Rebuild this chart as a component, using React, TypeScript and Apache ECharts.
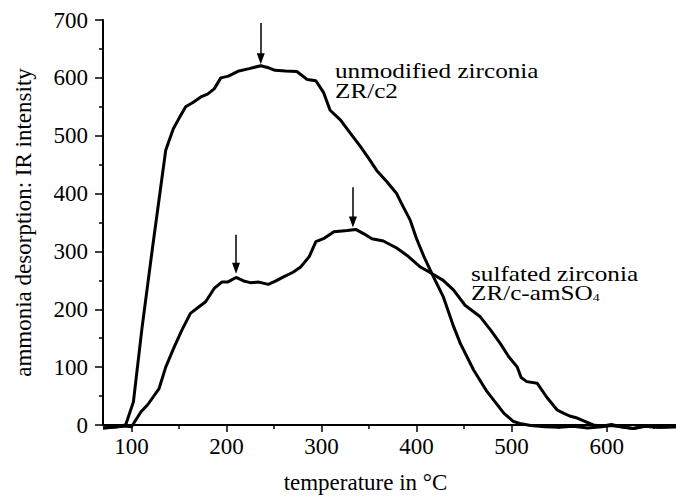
import React, { useEffect, useRef } from "react";
import * as echarts from "echarts";

// Unmodified zirconia ZR/c2
const unmodTemp = [70, 80, 90, 94, 102, 111, 122, 136, 144, 150, 157, 165, 173, 180, 187, 194, 202, 213, 224, 236, 245, 251, 262, 274, 285, 294, 302, 309, 320, 330, 341, 350, 358, 369, 379, 386, 393, 400, 408, 416, 428, 439, 446, 460, 474, 484, 492, 502, 510, 520, 535, 550, 565, 580, 595, 605, 615, 628, 640, 655, 673];
const unmodValue = [-5, -4, -2, 1, 40, 167, 305, 475, 512, 530, 550, 558, 567, 572, 581, 600, 603, 612, 616, 621, 617, 613, 612, 611, 597, 595, 575, 544, 527, 505, 481, 460, 440, 420, 400, 377, 355, 322, 290, 262, 222, 170, 141, 95, 58, 37, 20, 6, 2, -1, -3, -4, -2, -5, -3, -1, -3, -6, -2, -4, -3];

// Sulfated zirconia ZR/c-amSO4
const sulfTemp = [70, 80, 90, 95, 100, 110, 117, 129, 136, 145, 153, 162, 170, 178, 187, 195, 201, 210, 218, 225, 234, 244, 252, 260, 270, 278, 287, 294, 302, 313, 327, 336, 345, 353, 365, 379, 390, 404, 416, 428, 439, 451, 467, 478, 488, 497, 506, 510, 516, 527, 537, 548, 555, 562, 569, 586, 595, 605, 615, 628, 640, 655, 673];
const sulfValue = [-5, -4, -2, -2, -3, 23, 35, 63, 100, 135, 164, 193, 203, 213, 236, 247, 247, 255, 249, 246, 247, 243, 249, 256, 264, 273, 291, 317, 322, 334, 336, 338, 330, 322, 318, 306, 293, 273, 262, 250, 233, 207, 187, 164, 141, 118, 100, 82, 75, 72, 48, 26, 20, 15, 12, 0, -2, 1, -3, -6, -2, -4, -3];

// Peak arrows: [temperature, top value, tip value]
const arrowTemp = [236, 210, 333];
const arrowTop = [695, 329, 411];
const arrowTip = [633, 271, 351];

const xMajorTicks = [100, 200, 300, 400, 500, 600];
const xMinorTicks = [150, 250, 350, 450, 550, 650];

const FONT = "Liberation Serif";

export default function App() {
  const ref = useRef<HTMLDivElement>(null);
  useEffect(() => {
    const chart = echarts.init(ref.current!, null, { renderer: "svg" });
    const zip = (t: number[], v: number[]) => t.map((x, i) => [x, v[i]]);
    const arrows = arrowTemp.map((t, i) => [
      { coord: [t, arrowTop[i]], symbol: "none" },
      { coord: [t, arrowTip[i]], symbol: "triangle" },
    ]);
    chart.setOption({
      animation: false,
      backgroundColor: "#fff",
      grid: { left: 103, right: 0, top: 20, bottom: 74 },
      xAxis: [
        {
          type: "value",
          min: 70,
          max: 673,
          name: "temperature in °C",
          nameLocation: "middle",
          nameGap: 46,
          nameTextStyle: { fontFamily: FONT, fontSize: 23, color: "#000", padding: [0, 48, 0, 0] },
          axisLine: { show: true, onZero: false, lineStyle: { color: "#000", width: 2 } },
          axisTick: { show: true, customValues: xMajorTicks, length: 7, lineStyle: { color: "#000", width: 1.5 } },
          axisLabel: { customValues: xMajorTicks, fontFamily: FONT, fontSize: 23, color: "#000", margin: 10 },
          splitLine: { show: false },
        },
        {
          type: "value",
          min: 70,
          max: 673,
          position: "bottom",
          axisLine: { show: false },
          axisTick: { show: true, customValues: xMinorTicks, length: 4, lineStyle: { color: "#000", width: 1.5 } },
          axisLabel: { show: false },
          splitLine: { show: false },
        },
      ],
      yAxis: {
        type: "value",
        min: 0,
        max: 700,
        interval: 100,
        name: "ammonia desorption: IR intensity",
        nameLocation: "middle",
        nameGap: 68,
        nameTextStyle: { fontFamily: FONT, fontSize: 23, color: "#000" },
        axisLine: { show: true, lineStyle: { color: "#000", width: 2 } },
        axisTick: { show: true, length: 8, lineStyle: { color: "#000", width: 1.5 } },
        minorTick: { show: true, splitNumber: 2, length: 4, lineStyle: { color: "#000", width: 1.5 } },
        axisLabel: { fontFamily: FONT, fontSize: 23, color: "#000", margin: 15 },
        splitLine: { show: false },
      },
      series: [
        {
          type: "line",
          name: "unmodified zirconia ZR/c2",
          data: zip(unmodTemp, unmodValue),
          showSymbol: false,
          clip: false,
          lineStyle: { color: "#000", width: 3 },
          markLine: {
            silent: true,
            symbolSize: [8, 11],
            label: { show: false },
            lineStyle: { color: "#000", width: 1.5, type: "solid" },
            data: arrows,
          },
        },
        {
          type: "line",
          name: "sulfated zirconia ZR/c-amSO4",
          data: zip(sulfTemp, sulfValue),
          showSymbol: false,
          clip: false,
          lineStyle: { color: "#000", width: 3 },
        },
      ],
      graphic: [
        {
          type: "text",
          x: 335,
          y: 61,
          scaleX: 1.26,
          style: {
            text: "unmodified zirconia\nZR/c2",
            fontFamily: FONT,
            fontSize: 20,
            lineHeight: 20,
            fill: "#000",
          },
        },
        {
          type: "text",
          x: 471,
          y: 265,
          scaleX: 1.26,
          style: {
            text: "sulfated zirconia\nZR/c-amSO{sub|4}",
            fontFamily: FONT,
            fontSize: 20,
            lineHeight: 19,
            fill: "#000",
            rich: {
              sub: { fontFamily: FONT, fontSize: 11, lineHeight: 19, verticalAlign: "bottom", padding: [6, 0, 0, 0], fill: "#000" },
            },
          },
        },
      ],
    });
    return () => chart.dispose();
  }, []);
  return (
    <div
      ref={ref}
      style={{ position: "fixed", left: 0, top: 0, width: 676, height: 499, background: "#fff" }}
    />
  );
}
